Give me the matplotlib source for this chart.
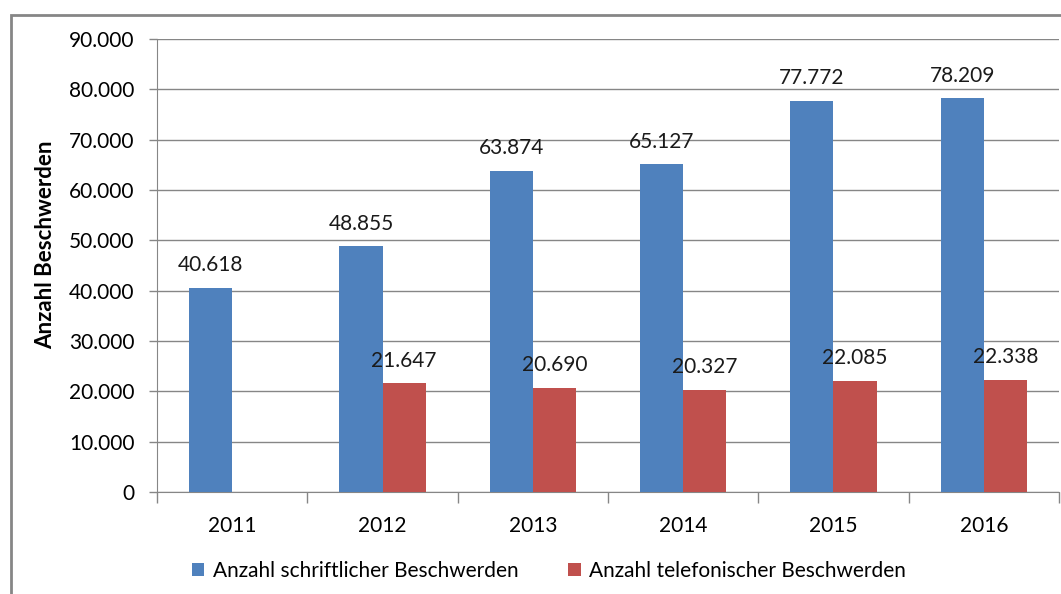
import matplotlib
matplotlib.use("Agg")
import matplotlib.pyplot as plt
from matplotlib.patches import Rectangle
from matplotlib.ticker import FuncFormatter, FixedLocator
import numpy as np

plt.rcParams['font.family'] = ['Lato', 'DejaVu Sans']

years = ["2011", "2012", "2013", "2014", "2015", "2016"]
schriftlich = [40618, 48855, 63874, 65127, 77772, 78209]
telefonisch = [None, 21647, 20690, 20327, 22085, 22338]
series_names = ["Anzahl schriftlicher Beschwerden", "Anzahl telefonischer Beschwerden"]

blue = "#4F81BD"
red = "#C0504D"
grey = "#868686"
fs = 15

def de(v):
    return f"{int(v):,}".replace(",", ".")

fig = plt.figure(figsize=(10.61, 5.94), dpi=100)
# outer chart border (Excel style)
fig.patches.append(Rectangle((11/1061, -0.1), 1.2, 1 - 15/594 + 0.1, transform=fig.transFigure,
                             fill=False, edgecolor=grey, linewidth=2))

ax = fig.add_axes([157/1061, 1 - 492/594, 902/1061, 453/594])
x = np.arange(len(years))
w = 0.287

tel_vals = [v if v is not None else 0 for v in telefonisch]
b1 = ax.bar(x - w/2, schriftlich, w, color=blue, label=series_names[0], zorder=3)
b2 = ax.bar(x + w/2, tel_vals, w, color=red, label=series_names[1], zorder=3)

for xi, v in zip(x, schriftlich):
    ax.annotate(de(v), (xi - w/2, v), xytext=(0, 9), textcoords="offset points",
                ha="center", va="bottom", fontsize=fs, color="#1a1a1a")
for xi, v in zip(x, telefonisch):
    if v is None:
        continue
    ax.annotate(de(v), (xi + w/2, v), xytext=(0, 9), textcoords="offset points",
                ha="center", va="bottom", fontsize=fs, color="#1a1a1a")

ax.set_xlim(-0.5, len(years) - 0.5)
ax.set_ylim(0, 90000)
ax.set_yticks(np.arange(0, 90001, 10000))
ax.yaxis.set_major_formatter(FuncFormatter(lambda v, p: de(v)))
ax.grid(axis="y", color=grey, linewidth=1, zorder=0)

ax.set_xticks(x)
ax.set_xticklabels(years)
ax.xaxis.set_minor_locator(FixedLocator(np.arange(-0.5, len(years), 1.0)))
ax.tick_params(axis="x", which="major", length=0, pad=17, labelsize=fs)
ax.tick_params(axis="x", which="minor", length=8, color=grey, width=1)
ax.tick_params(axis="y", length=6, color=grey, width=1, labelsize=fs, pad=10)

for s in ["top", "right"]:
    ax.spines[s].set_visible(False)
ax.spines["left"].set_color(grey)
ax.spines["bottom"].set_color(grey)

ax.set_ylabel("Anzahl Beschwerden", fontsize=16, fontweight="bold")
ax.yaxis.set_label_coords(-0.112, 0.545)

fig.legend(handles=[b1, b2], labels=series_names, loc="center", bbox_to_anchor=(549/1061, 1 - 571/594),
           ncol=2, frameon=False, fontsize=fs, handlelength=0.6, handleheight=0.6,
           handletextpad=0.4, columnspacing=2.4)

fig.savefig("out.png", dpi=100)
